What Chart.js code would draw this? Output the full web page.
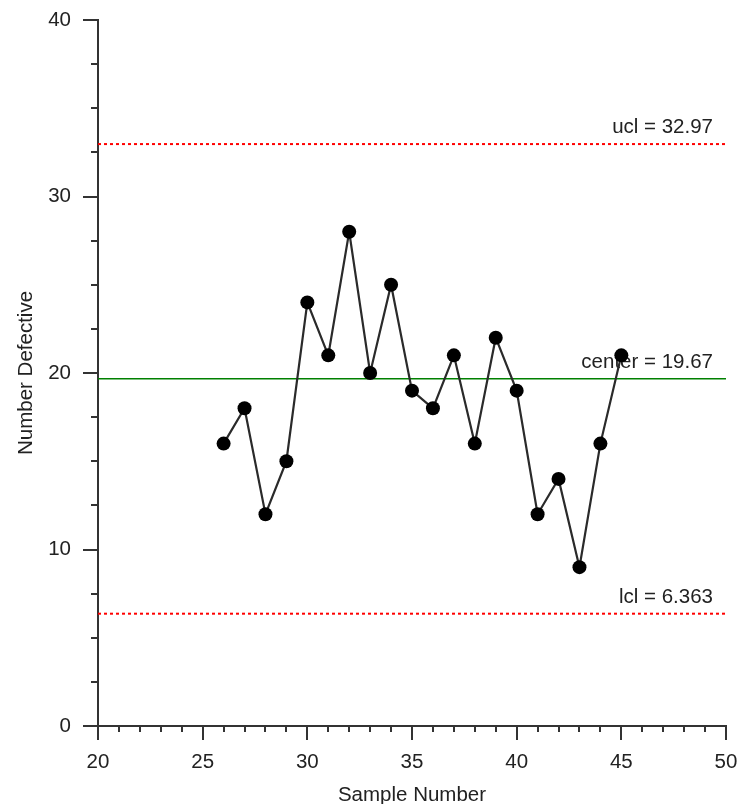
<!DOCTYPE html>
<html>
<head>
<meta charset="utf-8">
<script src="https://cdn.jsdelivr.net/npm/chart.js@4.4.1/dist/chart.umd.min.js"></script>
<style>
  html, body { margin: 0; padding: 0; background: #fff; }
  #wrap { width: 740px; height: 804px; }
</style>
</head>
<body>
<div id="wrap"><canvas id="chart" width="740" height="804"></canvas></div>
<script>
const sampleNumbers = [26, 27, 28, 29, 30, 31, 32, 33, 34, 35, 36, 37, 38, 39, 40, 41, 42, 43, 44, 45];
const defectives = [16, 18, 12, 15, 24, 21, 28, 20, 25, 19, 18, 21, 16, 22, 19, 12, 14, 9, 16, 21];

const xTicks = [20, 25, 30, 35, 40, 45, 50];
const yTicks = [0, 10, 20, 30, 40];

const limitNames = ['ucl', 'center', 'lcl'];
const limitValues = [32.97, 19.67, 6.363];
const limitLabels = ['ucl = 32.97', 'center = 19.67', 'lcl = 6.363'];
const limitColors = ['#ff0000', '#008000', '#ff0000'];

const FONT = { family: '"Liberation Sans", Arial, sans-serif', size: 20.5 };
const AXIS = '#333333';

const limitDatasets = limitValues.map((v, i) => ({
  label: limitNames[i],
  data: [{ x: xTicks[0], y: v }, { x: xTicks[xTicks.length - 1], y: v }],
  borderColor: limitColors[i],
  borderWidth: i === 1 ? 1.5 : 2,
  borderDash: i === 1 ? [] : [3, 3],
  pointRadius: 0,
  fill: false,
  order: 1,
}));

// labels sit above each limit line, right aligned
const limitLabelPlugin = {
  id: 'limitLabels',
  beforeDatasetsDraw(chart) {
    const { ctx, chartArea, scales } = chart;
    ctx.save();
    ctx.font = `${FONT.size}px ${FONT.family}`;
    ctx.fillStyle = '#222';
    ctx.textAlign = 'right';
    ctx.textBaseline = 'alphabetic';
    limitValues.forEach((v, i) => {
      const y = scales.y.getPixelForValue(v);
      ctx.fillText(limitLabels[i], chartArea.right - 13, y - 11);
    });
    ctx.restore();
  },
};

const minorTickPlugin = {
  id: 'minorTicks',
  afterDraw(chart) {
    const { ctx, scales } = chart;
    const xs = scales.x, ys = scales.y;
    ctx.save();
    ctx.strokeStyle = AXIS;
    ctx.lineWidth = 2;
    ctx.beginPath();
    for (let v = xs.min; v <= xs.max; v += 1) {
      if (v % 5 === 0) continue;
      const px = Math.round(xs.getPixelForValue(v));
      ctx.moveTo(px, ys.bottom);
      ctx.lineTo(px, ys.bottom + 6);
    }
    for (let v = ys.min; v <= ys.max; v += 2.5) {
      if (v % 10 === 0) continue;
      const py = Math.round(ys.getPixelForValue(v));
      ctx.moveTo(xs.left, py);
      ctx.lineTo(xs.left - 7, py);
    }
    ctx.stroke();
    ctx.restore();
  },
};

new Chart(document.getElementById('chart'), {
  type: 'line',
  data: {
    datasets: [
      {
        label: 'defectives',
        data: sampleNumbers.map((x, i) => ({ x, y: defectives[i] })),
        borderColor: '#2a2a2a',
        borderWidth: 2.2,
        pointRadius: 7,
        pointBackgroundColor: '#000',
        pointBorderWidth: 0,
        fill: false,
        order: 0,
      },
      ...limitDatasets,
    ],
  },
  options: {
    responsive: false,
    animation: false,
    layout: { padding: { left: 0, right: 14, top: 20, bottom: 0 } },
    plugins: { legend: { display: false }, tooltip: { enabled: false } },
    scales: {
      x: {
        type: 'linear',
        min: 20,
        max: 50,
        afterBuildTicks: (s) => { s.ticks = xTicks.map((v) => ({ value: v })); },
        afterFit: (s) => { s.height = 78; s.paddingLeft = 0; s.paddingRight = 0; },
        grid: { drawOnChartArea: false, drawTicks: true, tickLength: 14, color: AXIS, lineWidth: 2 },
        border: { display: true, color: AXIS, width: 2 },
        ticks: { color: '#222', font: FONT, padding: 10, maxRotation: 0 },
        title: { display: true, text: 'Sample Number', color: '#222', font: FONT, padding: { top: 0, bottom: -4 } },
      },
      y: {
        type: 'linear',
        min: 0,
        max: 40,
        afterBuildTicks: (s) => { s.ticks = yTicks.map((v) => ({ value: v })); },
        afterFit: (s) => { s.width = 98; s.paddingTop = 0; s.paddingBottom = 0; },
        grid: { drawOnChartArea: false, drawTicks: true, tickLength: 15, color: AXIS, lineWidth: 2 },
        border: { display: true, color: AXIS, width: 2 },
        ticks: { color: '#222', font: FONT, padding: 12 },
        title: { display: true, text: 'Number Defective', color: '#222', font: FONT, padding: { top: 14, bottom: 0 } },
      },
    },
  },
  plugins: [limitLabelPlugin, minorTickPlugin],
});
</script>
</body>
</html>
